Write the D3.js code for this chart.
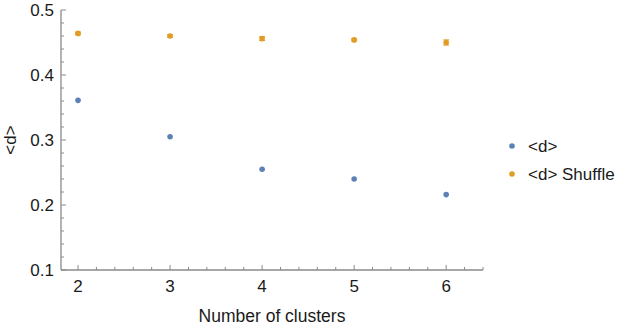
<!DOCTYPE html>
<html>
<head>
<meta charset="utf-8">
<script src="https://cdn.jsdelivr.net/npm/d3@7"></script>
<style>
  body { margin: 0; background: #fff; }
  text { font-family: "Liberation Sans", Arial, sans-serif; fill: #1a1a1a; }
</style>
</head>
<body>
<div id="chart"></div>
<script>
// data
var clusters = [2, 3, 4, 5, 6];
var meanD = [0.361, 0.305, 0.255, 0.240, 0.216];
var meanShuffle = [0.464, 0.460, 0.456, 0.454, 0.450];
var shuffleErr = [0.002, 0.002, 0.003, 0.002, 0.004];
var seriesNames = ["<d>", "<d> Shuffle"];
var colors = ["#5E81B5", "#E19C24"];
var yTicks = [0.1, 0.2, 0.3, 0.4, 0.5];

var W = 617, H = 328;
var m = {top: 10, right: 134, bottom: 58, left: 61};

var x = d3.scaleLinear()
    .domain([1.815, 6.4])
    .range([m.left, W - m.right]);
var y = d3.scaleLinear()
    .domain([0.1, 0.5])
    .range([H - m.bottom, m.top]);

var svg = d3.select('#chart').append("svg")
    .attr("width", W)
    .attr("height", H);

var axisColor = "#8a8a8a";

// x axis
var gx = svg.append("g")
    .attr("transform", "translate(0," + (H - m.bottom) + ")");
gx.append("line")
    .attr("x1", m.left).attr("x2", W - m.right)
    .attr("stroke", axisColor).attr("stroke-width", 1.3);
var xMinor = d3.range(1.8, 6.41, 0.2).filter(function(v){ return v >= 1.815 && Math.abs(v - Math.round(v)) > 0.01; });
gx.selectAll(".xminor").data(xMinor).enter().append("line")
    .attr("x1", function(d){ return x(d); }).attr("x2", function(d){ return x(d); })
    .attr("y1", 0).attr("y2", -3)
    .attr("stroke", axisColor);
gx.selectAll(".xmajor").data(clusters).enter().append("line")
    .attr("x1", function(d){ return x(d); }).attr("x2", function(d){ return x(d); })
    .attr("y1", 0).attr("y2", -5)
    .attr("stroke", axisColor);
gx.selectAll(".xlab").data(clusters).enter().append("text")
    .attr("x", function(d){ return x(d); })
    .attr("y", 22)
    .attr("text-anchor", "middle")
    .attr("font-size", 17)
    .text(function(d){ return d; });

// y axis
var gy = svg.append("g")
    .attr("transform", "translate(" + m.left + ",0)");
gy.append("line")
    .attr("y1", y(0.1)).attr("y2", y(0.5))
    .attr("stroke", axisColor).attr("stroke-width", 1.3);
var yMinor = d3.range(0.12, 0.5, 0.02).filter(function(v){ return Math.abs(v * 10 - Math.round(v * 10)) > 0.01; });
gy.selectAll(".yminor").data(yMinor).enter().append("line")
    .attr("y1", function(d){ return y(d); }).attr("y2", function(d){ return y(d); })
    .attr("x1", 0).attr("x2", 3)
    .attr("stroke", axisColor);
gy.selectAll(".ymajor").data(yTicks).enter().append("line")
    .attr("y1", function(d){ return y(d); }).attr("y2", function(d){ return y(d); })
    .attr("x1", 0).attr("x2", 5)
    .attr("stroke", axisColor);
gy.selectAll(".ylab").data(yTicks).enter().append("text")
    .attr("x", -7)
    .attr("y", function(d){ return y(d) + 6; })
    .attr("text-anchor", "end")
    .attr("font-size", 17)
    .text(function(d){ return d3.format(".1f")(d); });

// axis titles
svg.append("text")
    .attr("x", (x(1.815) + x(6.4)) / 2)
    .attr("y", 322)
    .attr("text-anchor", "middle")
    .attr("font-size", 17.5)
    .text("Number of clusters");
svg.append("text")
    .attr("transform", "translate(16," + y(0.3) + ") rotate(-90)")
    .attr("text-anchor", "middle")
    .attr("font-size", 17)
    .text("<d>");

// points
svg.selectAll(".pd").data(clusters).enter().append("circle")
    .attr("cx", function(d){ return x(d); })
    .attr("cy", function(d, i){ return y(meanD[i]); })
    .attr("r", 2.8)
    .attr("fill", colors[0]);

var sh = svg.selectAll(".ps").data(clusters).enter().append("g")
    .attr("fill", colors[1]).attr("stroke", colors[1]);
sh.append("line")
    .attr("x1", function(d){ return x(d); }).attr("x2", function(d){ return x(d); })
    .attr("y1", function(d, i){ return y(meanShuffle[i] - shuffleErr[i]); })
    .attr("y2", function(d, i){ return y(meanShuffle[i] + shuffleErr[i]); })
    .attr("stroke-width", 1);
sh.append("line")
    .attr("x1", function(d){ return x(d) - 3; }).attr("x2", function(d){ return x(d) + 3; })
    .attr("y1", function(d, i){ return y(meanShuffle[i] - shuffleErr[i]); })
    .attr("y2", function(d, i){ return y(meanShuffle[i] - shuffleErr[i]); });
sh.append("line")
    .attr("x1", function(d){ return x(d) - 3; }).attr("x2", function(d){ return x(d) + 3; })
    .attr("y1", function(d, i){ return y(meanShuffle[i] + shuffleErr[i]); })
    .attr("y2", function(d, i){ return y(meanShuffle[i] + shuffleErr[i]); });
sh.append("circle")
    .attr("cx", function(d){ return x(d); })
    .attr("cy", function(d, i){ return y(meanShuffle[i]); })
    .attr("r", 2.8)
    .attr("stroke", "none");

// legend
var lg = svg.selectAll(".lg").data(seriesNames).enter().append("g")
    .attr("transform", function(d, i){ return "translate(512," + (146 + i * 28) + ")"; });
lg.append("circle").attr("r", 2.8).attr("fill", function(d, i){ return colors[i]; });
lg.append("text")
    .attr("x", 16).attr("y", 6)
    .attr("font-size", 17)
    .text(function(d){ return d; });
</script>
</body>
</html>
